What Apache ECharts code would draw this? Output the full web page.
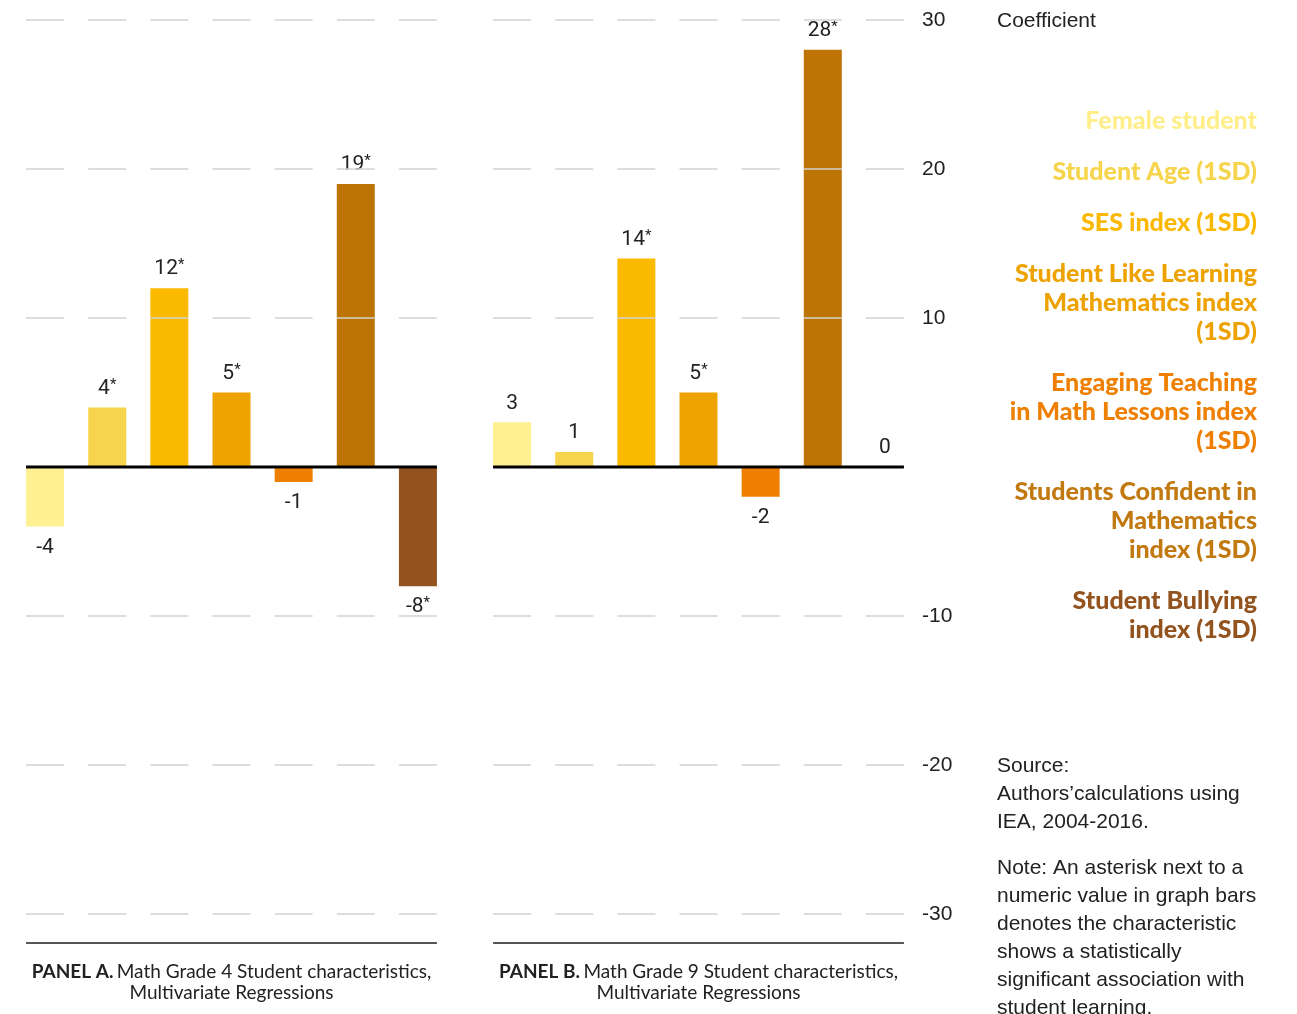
<!DOCTYPE html>
<html>
<head>
<meta charset="utf-8">
<script src="https://cdn.jsdelivr.net/npm/echarts@6/dist/echarts.min.js"></script>
<style>
  html, body { margin: 0; padding: 0; background: #ffffff; }
  #chart { width: 1297px; height: 1014px; }
</style>
</head>
<body>
<div id="chart"></div>
<script>
// Student characteristics shown in both panels
const categories = [
  'Female student',
  'Student Age (1SD)',
  'SES index (1SD)',
  'Student Like Learning\nMathematics index\n(1SD)',
  'Engaging Teaching\nin Math Lessons index\n(1SD)',
  'Students Confident in\nMathematics\nindex (1SD)',
  'Student Bullying\nindex (1SD)'
];

// Regression coefficients, Grade 4 (panel A) and Grade 9 (panel B)
const grade4Values = [-4, 4, 12, 5, -1, 19, -8];
const grade4Significant = [false, true, true, true, false, true, true];
const grade9Values = [3, 1, 14, 5, -2, 28, 0];
const grade9Significant = [false, false, true, true, false, true, false];

const barColors = ['#FFF091', '#F6D44B', '#FBBA00', '#EDA300', '#EF7F00', '#BD7405', '#93531E'];
const legendColors = ['#FFEE8A', '#F6D44B', '#FBB800', '#EDA200', '#EF7F00', '#C27A10', '#93531E'];

const yTicks = { min: -30, max: 30, step: 10 };

const panelTitles = [
  { bold: 'PANEL A.', rest: 'Math Grade 4 Student characteristics,', line2: 'Multivariate Regressions' },
  { bold: 'PANEL B.', rest: 'Math Grade 9 Student characteristics,', line2: 'Multivariate Regressions' }
];
const axisTitle = 'Coefficient';
const sourceLines = ['Source:', 'Authors\u2019calculations using', 'IEA, 2004-2016.'];
const noteLines = [
  'Note: An asterisk next to a',
  'numeric value in graph bars',
  'denotes the characteristic',
  'shows a statistically',
  'significant association with',
  'student learning.'
];

// ---- layout ----
const PANEL_LEFT = [14, 481];
const PANEL_WIDTH = 435;
const PLOT_TOP = 20;
const PLOT_HEIGHT = 894;
const BAR_FRACTION = 0.6115;
const band = PANEL_WIDTH / categories.length;
const barPx = band * BAR_FRACTION;
const gapPx = band - barPx;

const labelFont = 'Roboto, "Liberation Sans", sans-serif';
const textFont = '"Liberation Sans", Arial, sans-serif';
const narrowFont = 'Lato, "Liberation Sans", sans-serif';

function panelSeries(values, significant, p) {
  const list = categories.map((name, i) => ({
    type: 'bar',
    name: name,
    xAxisIndex: p * 2,
    yAxisIndex: p,
    barWidth: (BAR_FRACTION * 100) + '%',
    barGap: '-100%',
    silent: true,
    itemStyle: { color: barColors[i] },
    label: {
      show: true,
      color: '#222',
      fontFamily: labelFont,
      formatter: (prm) => '{v|' + prm.value + '}' + (significant[prm.dataIndex] ? '{s|*}' : ''),
      rich: {
        v: { fontSize: 21, lineHeight: 22, fontFamily: labelFont, color: '#222' },
        s: { fontSize: 15, lineHeight: 14, verticalAlign: 'top', fontFamily: labelFont, color: '#222' }
      }
    },
    data: values.map((v, j) => j === i
      ? { value: v, label: { position: v >= 0 ? 'top' : 'bottom', distance: v >= 0 ? 8 : 10 } }
      : '-')
  }));
  // zero baseline spanning from the first bar edge to the last bar edge
  list.push({
    type: 'line',
    xAxisIndex: p * 2 + 1,
    yAxisIndex: p,
    silent: true,
    symbol: 'none',
    z: 5,
    lineStyle: { color: '#000', width: 3 },
    data: [[-BAR_FRACTION / 2, 0], [categories.length - 1 + BAR_FRACTION / 2, 0]]
  });
  return list;
}

function yAxisFor(p) {
  return {
    type: 'value',
    gridIndex: p,
    position: 'right',
    min: yTicks.min,
    max: yTicks.max,
    interval: yTicks.step,
    z: 3,
    axisLine: { show: false },
    axisTick: { show: false },
    splitLine: {
      show: true,
      lineStyle: { color: '#d2d2d2', width: 1.5, type: [barPx, gapPx], dashOffset: band - gapPx / 2 }
    },
    axisLabel: {
      show: p === 1,
      margin: 6,
      fontSize: 21,
      fontFamily: textFont,
      color: '#222',
      formatter: (v) => (v === 0 ? '' : String(v))
    }
  };
}

const grids = PANEL_LEFT.map((left) => ({ left: left, top: PLOT_TOP, width: PANEL_WIDTH, height: PLOT_HEIGHT }));

const xAxes = [];
[0, 1].forEach((p) => {
  xAxes.push({ type: 'category', gridIndex: p, data: categories, show: false });
  xAxes.push({ type: 'value', gridIndex: p, min: -0.5, max: categories.length - 0.5, show: false });
});

const graphics = [];
PANEL_LEFT.forEach((left, p) => {
  graphics.push({
    type: 'line',
    silent: true,
    shape: { x1: left + gapPx / 2, y1: 943, x2: left + PANEL_WIDTH - gapPx / 2, y2: 943 },
    style: { stroke: '#555', lineWidth: 2 }
  });
  const t = panelTitles[p];
  graphics.push({
    type: 'text',
    silent: true,
    x: left + PANEL_WIDTH / 2,
    y: 961,
    style: {
      text: '{b|' + t.bold + '} {r|' + t.rest + '}\n{r|' + t.line2 + '}',
      align: 'center',
      verticalAlign: 'top',
      rich: {
        b: { fontFamily: narrowFont, fontSize: 19, fontWeight: 'bold', lineHeight: 21, fill: '#222' },
        r: { fontFamily: narrowFont, fontSize: 19, lineHeight: 21, fill: '#222' }
      }
    }
  });
});
graphics.push({
  type: 'text', silent: true, x: 997, y: 10,
  style: { text: axisTitle, fontFamily: textFont, fontSize: 21, lineHeight: 22, fill: '#222', verticalAlign: 'top' }
});
graphics.push({
  type: 'text', silent: true, x: 997, y: 752,
  style: { text: sourceLines.join('\n'), fontFamily: textFont, fontSize: 21, lineHeight: 28, fill: '#222', verticalAlign: 'top' }
});
graphics.push({
  type: 'text', silent: true, x: 997, y: 854,
  style: { text: noteLines.join('\n'), fontFamily: textFont, fontSize: 21, lineHeight: 28, fill: '#222', verticalAlign: 'top' }
});

const chart = echarts.init(document.getElementById('chart'), null, { renderer: 'canvas' });
chart.setOption({
  animation: false,
  backgroundColor: '#ffffff',
  grid: grids,
  xAxis: xAxes,
  yAxis: [yAxisFor(0), yAxisFor(1)],
  legend: {
    orient: 'vertical',
    right: 35,
    top: 106,
    padding: 0,
    align: 'right',
    icon: 'none',
    itemWidth: 0,
    itemHeight: 0,
    itemGap: 22,
    selectedMode: false,
    textStyle: { fontFamily: narrowFont, fontSize: 25, fontWeight: 900, lineHeight: 29 },
    data: categories.map((name, i) => ({ name: name, textStyle: { color: legendColors[i] } }))
  },
  series: panelSeries(grade4Values, grade4Significant, 0).concat(panelSeries(grade9Values, grade9Significant, 1)),
  graphic: graphics
});
</script>
</body>
</html>
